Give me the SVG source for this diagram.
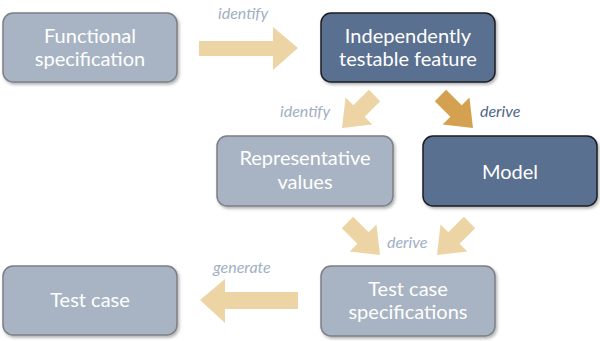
<svg xmlns="http://www.w3.org/2000/svg" width="600" height="341" viewBox="0 0 600 341">
<style>
.light rect{fill:#a8b4c3;stroke:#7c7f84;stroke-width:1.5}
.dark rect{fill:#5a7090;stroke:#1a1d22;stroke-width:1.5}
.bt{font-family:Lato,"Open Sans",sans-serif;font-size:20px;fill:#ffffff;text-anchor:middle}
.lbl{font-family:Lato,"Open Sans",sans-serif;font-size:16px;font-style:italic;fill:#9fb0c3}
.lbld{fill:#4f6787}
.arr{fill:#ecd4a5}
.arrd{fill:#d4a150}
</style>
<defs>
<filter id="sh" x="-10%" y="-10%" width="125%" height="130%">
<feDropShadow dx="1.5" dy="2" stdDeviation="1.5" flood-color="#000" flood-opacity="0.3"/>
</filter>
<path id="darr" d="M0,0 L-24,19 L-24,8 L-46,8 L-46,-8 L-24,-8 L-24,-19 Z"/>
</defs>
<g id="connectors">
<path class="arr" d="M298,48 L273,27 L273,41 L199,41 L199,56 L273,56 L273,70 Z"/>
<path class="arr" d="M200,300 L225,279 L225,292 L298,292 L298,309 L225,309 L225,323 Z"/>
<use href="#darr" class="arr" transform="translate(342,128) rotate(135)"/>
<use href="#darr" class="arrd" transform="translate(473,128) rotate(45)"/>
<use href="#darr" class="arr" transform="translate(380,255) rotate(45)"/>
<use href="#darr" class="arr" transform="translate(437,255) rotate(135)"/>
<text class="lbl" x="218" y="19">identify</text>
<text class="lbl" x="280" y="117">identify</text>
<text class="lbl lbld" x="480" y="117">derive</text>
<text class="lbl" x="387" y="248">derive</text>
<text class="lbl" x="213" y="273">generate</text>
</g>
<g id="functional" class="light">
<rect x="3" y="13" width="174" height="69" rx="10" filter="url(#sh)"/>
<text class="bt" x="90" y="43">Functional</text>
<text class="bt" x="90" y="66">specification</text>
</g>
<g id="itf" class="dark">
<rect x="321" y="13" width="174" height="69" rx="10" filter="url(#sh)"/>
<text class="bt" x="408" y="43">Independently</text>
<text class="bt" x="408" y="66">testable feature</text>
</g>
<g id="repvalues" class="light">
<rect x="217" y="136" width="176" height="70" rx="10" filter="url(#sh)"/>
<text class="bt" x="305" y="165">Representative</text>
<text class="bt" x="305" y="189">values</text>
</g>
<g id="model" class="dark">
<rect x="423" y="136" width="174" height="70" rx="10" filter="url(#sh)"/>
<text class="bt" x="510" y="179">Model</text>
</g>
<g id="testcase" class="light">
<rect x="3" y="266" width="174" height="69" rx="10" filter="url(#sh)"/>
<text class="bt" x="90" y="307">Test case</text>
</g>
<g id="tcspecs" class="light">
<rect x="321" y="266" width="174" height="70" rx="10" filter="url(#sh)"/>
<text class="bt" x="408" y="296">Test case</text>
<text class="bt" x="408" y="319">specifications</text>
</g>
</svg>
